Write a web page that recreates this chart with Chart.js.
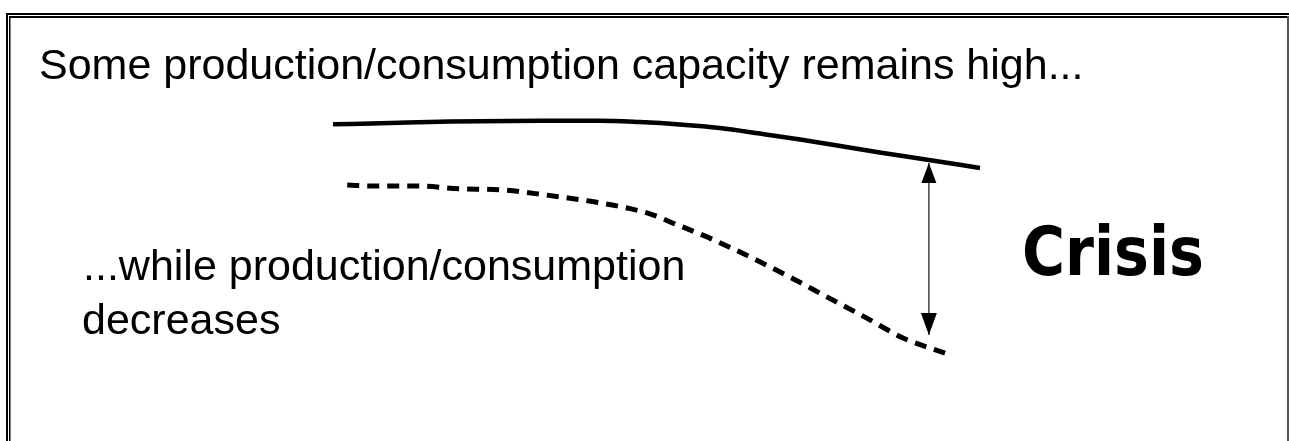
<!DOCTYPE html>
<html>
<head>
<meta charset="utf-8">
<script src="https://cdn.jsdelivr.net/npm/chart.js@4"></script>
<style>
  html, body { margin: 0; padding: 0; background: #fff; }
  canvas { display: block; }
</style>
</head>
<body>
<canvas id="myChart" width="1289" height="441"></canvas>
<script>
// time axis 0..10, level axis 0..100
const capacityT = [0, 0.88, 1.81, 3.2, 4.13, 4.74, 5.36, 5.98, 6.6, 7.22, 8.45, 9.21, 10];
const capacityLevel = [91.3, 91.8, 92.3, 92.6, 92.6, 92.1, 91.25, 90.0, 88.0, 85.9, 81.25, 78.6, 75.7];

const productionT = [0.22, 0.62, 1.28, 1.95, 2.61, 3.28, 3.96, 4.61, 4.93, 5.29, 5.78, 6.45, 7.06, 7.64, 8.25, 8.81, 9.46];
const productionLevel = [69.6, 69.3, 69.3, 68.3, 67.9, 66.1, 63.9, 61.1, 59.1, 55.7, 51.1, 43.9, 36.8, 29.6, 22.1, 15.0, 9.6];

// gap arrow between the two curves
const gapT = [9.21, 9.21];
const gapLevel = [77.5, 16.1];

const topText = 'Some production/consumption capacity remains high...';
const lowerText = ['...while production/consumption', 'decreases'];
const crisisText = 'Crisis';

const toPoints = (xs, ys) => xs.map((x, i) => ({ x: x, y: ys[i] }));

const framePlugin = {
    id: 'frame',
    beforeDraw(chart) {
        const c = chart.ctx;
        c.save();
        c.fillStyle = '#fff';
        c.fillRect(0, 0, chart.width, chart.height);
        c.fillStyle = '#000';
        c.fillRect(6, 13, 1283, 2);
        c.fillRect(6, 13, 2, 428);
        c.fillRect(9, 16, 1278, 2);
        c.fillRect(9, 16, 1, 425);
        c.fillStyle = '#808080';
        c.fillRect(10, 18, 1, 423);
        c.fillStyle = '#555';
        c.fillRect(1287, 16, 2, 425);
        c.restore();
    }
};

const textPlugin = {
    id: 'texts',
    afterDraw(chart) {
        const c = chart.ctx;
        c.save();
        c.fillStyle = '#000';
        c.textBaseline = 'alphabetic';
        c.font = '43px "Liberation Sans", Arial, sans-serif';
        c.fillText(topText, 39, 79);
        c.fillText(lowerText[0], 83, 280);
        c.fillText(lowerText[1], 82, 334);
        c.font = 'bold 68px "DejaVu Sans", Verdana, sans-serif';
        c.fillText(crisisText, 1022, 275, 182);
        c.restore();
    }
};

// arrow heads on the gap dataset ends
const arrowPlugin = {
    id: 'arrowHeads',
    afterDatasetsDraw(chart) {
        const meta = chart.getDatasetMeta(2);
        const top = meta.data[0], bottom = meta.data[1];
        const c = chart.ctx;
        c.save();
        c.fillStyle = '#000';
        c.beginPath();
        c.moveTo(top.x, top.y);
        c.lineTo(top.x - 7.5, top.y + 20);
        c.lineTo(top.x + 7.5, top.y + 20);
        c.closePath();
        c.fill();
        c.beginPath();
        c.moveTo(bottom.x, bottom.y);
        c.lineTo(bottom.x - 8, bottom.y - 22);
        c.lineTo(bottom.x + 8, bottom.y - 22);
        c.closePath();
        c.fill();
        c.restore();
    }
};

const ctx = document.getElementById('myChart').getContext('2d');
const myChart = new Chart(ctx, {
    type: 'line',
    data: {
        datasets: [{
            data: toPoints(capacityT, capacityLevel),
            borderColor: '#000',
            borderWidth: 4.5,
            pointRadius: 0,
            cubicInterpolationMode: 'monotone',
            clip: false
        }, {
            data: toPoints(productionT, productionLevel),
            borderColor: '#000',
            borderWidth: 5,
            borderDash: [12, 8],
            pointRadius: 0,
            cubicInterpolationMode: 'monotone',
            clip: false
        }, {
            data: toPoints(gapT, gapLevel),
            borderColor: '#444',
            borderWidth: 1.5,
            pointRadius: 0,
            clip: false
        }]
    },
    options: {
        responsive: false,
        animation: false,
        devicePixelRatio: 1,
        layout: {
            padding: { left: 333, right: 309, top: 100, bottom: 61 }
        },
        scales: {
            x: { type: 'linear', min: 0, max: 10, display: false },
            y: { min: 0, max: 100, display: false }
        },
        plugins: {
            legend: { display: false },
            tooltip: { enabled: false }
        }
    },
    plugins: [framePlugin, textPlugin, arrowPlugin]
});
</script>
</body>
</html>
